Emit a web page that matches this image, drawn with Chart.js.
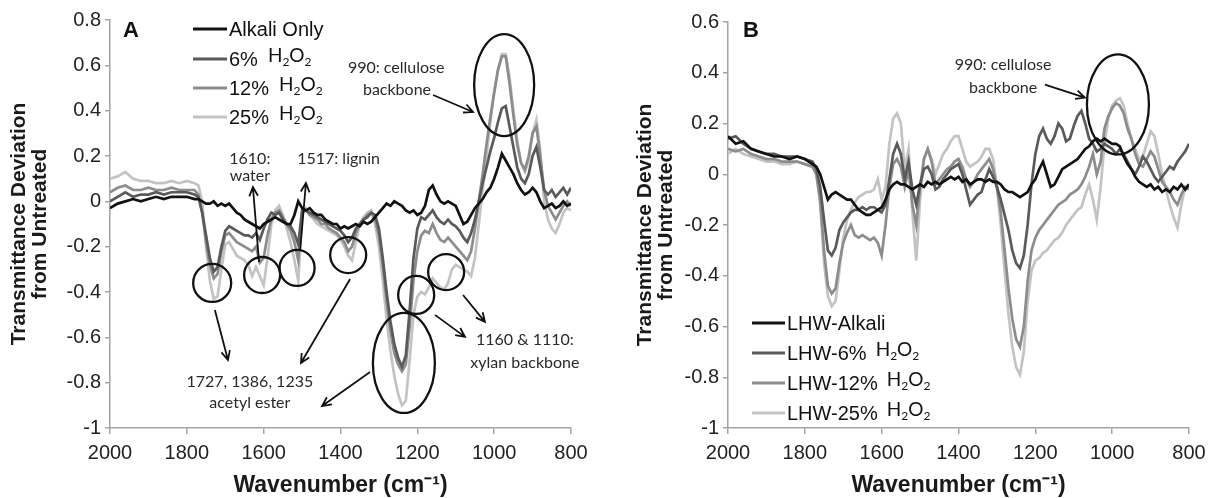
<!DOCTYPE html>
<html><head><meta charset="utf-8">
<script src="https://cdn.jsdelivr.net/npm/chart.js@4.4.1/dist/chart.umd.min.js"></script>
<style>
html,body{margin:0;padding:0;background:#fff;}
#wrap{position:relative;width:1217px;height:498px;overflow:hidden;background:#fff;}
#ca{position:absolute;left:0;top:0;}
#cb{position:absolute;left:600px;top:0;}
</style></head><body>
<div id="wrap"><canvas id="ca" width="600" height="498"></canvas><canvas id="cb" width="617" height="498"></canvas></div>
<script>
// ---------- DATA ----------
const wavenumbers = [
 2000,1980,1960,1940,1920,1900,1880,1860,1840,1820,
 1800,1780,1770,1760,1750,1740,1730,1720,1710,1700,
 1690,1680,1670,1660,1650,1640,1630,1620,1610,1600,
 1590,1580,1570,1560,1550,1540,1530,1520,1510,1500,
 1490,1480,1470,1460,1450,1440,1430,1420,1410,1400,
 1390,1380,1370,1360,1350,1340,1330,1320,1310,1300,
 1290,1280,1270,1260,1250,1240,1230,1220,1210,1200,
 1190,1180,1170,1160,1150,1140,1130,1120,1110,1100,
 1090,1080,1070,1060,1050,1040,1030,1020,1010,1000,
 990,980,970,960,950,940,930,920,910,900,
 890,880,870,860,850,840,830,820,810,800];

const xTicks = [2000,1800,1600,1400,1200,1000,800];
const yTicksA = [-1,-0.8,-0.6,-0.4,-0.2,0,0.2,0.4,0.6,0.8];
const yTicksB = [-1,-0.8,-0.6,-0.4,-0.2,0,0.2,0.4,0.6];

// Panel A
const seriesNamesA = ['Alkali Only','6% H\u2082O\u2082','12% H\u2082O\u2082','25% H\u2082O\u2082'];
const alkaliOnlyA = [
 -0.03,-0.01,0.00,0.01,0.00,0.01,0.02,0.01,0.02,0.02,
 0.02,0.01,0.01,0.00,-0.01,-0.01,0.00,-0.02,-0.01,-0.02,
 -0.01,-0.03,-0.05,-0.06,-0.08,-0.09,-0.10,-0.11,-0.12,-0.10,
 -0.09,-0.08,-0.07,-0.08,-0.09,-0.10,-0.10,-0.06,0.00,-0.03,
 -0.04,-0.03,-0.05,-0.06,-0.06,-0.08,-0.09,-0.10,-0.10,-0.12,
 -0.11,-0.12,-0.11,-0.10,-0.11,-0.09,-0.10,-0.09,-0.07,-0.05,
 -0.03,-0.01,-0.02,0.00,-0.01,-0.02,-0.04,-0.05,-0.04,-0.06,
 -0.05,-0.02,0.05,0.07,0.03,0.00,-0.01,0.00,-0.01,-0.02,
 -0.06,-0.10,-0.09,-0.06,-0.03,-0.01,0.01,0.04,0.06,0.10,
 0.15,0.21,0.18,0.15,0.12,0.08,0.05,0.03,0.04,0.06,
 0.04,0.00,-0.03,-0.02,-0.01,-0.03,-0.02,0.00,-0.02,-0.01];
const h2o2_6A = [
 0.00,0.02,0.04,0.02,0.03,0.03,0.04,0.03,0.04,0.04,
 0.04,0.03,0.02,-0.05,-0.15,-0.25,-0.31,-0.29,-0.20,-0.13,
 -0.11,-0.12,-0.13,-0.14,-0.15,-0.15,-0.16,-0.14,-0.17,-0.12,
 -0.08,-0.05,-0.06,-0.05,-0.08,-0.10,-0.11,-0.14,-0.19,-0.04,
 -0.04,-0.05,-0.06,-0.07,-0.08,-0.09,-0.10,-0.11,-0.12,-0.13,
 -0.15,-0.18,-0.16,-0.12,-0.10,-0.08,-0.07,-0.05,-0.06,-0.12,
 -0.25,-0.40,-0.53,-0.63,-0.69,-0.73,-0.68,-0.48,-0.25,-0.12,
 -0.07,-0.08,-0.06,-0.04,-0.07,-0.09,-0.10,-0.08,-0.10,-0.11,
 -0.13,-0.16,-0.18,-0.14,-0.08,0.00,0.08,0.15,0.22,0.28,
 0.35,0.41,0.42,0.33,0.24,0.15,0.10,0.08,0.12,0.20,
 0.24,0.15,0.05,0.03,0.05,0.02,0.04,0.06,0.03,0.06];
const h2o2_12A = [
 0.04,0.06,0.07,0.05,0.05,0.06,0.05,0.05,0.06,0.05,
 0.05,0.05,0.03,-0.05,-0.18,-0.28,-0.34,-0.32,-0.22,-0.15,
 -0.14,-0.16,-0.18,-0.19,-0.20,-0.21,-0.22,-0.20,-0.27,-0.25,
 -0.15,-0.08,-0.05,-0.04,-0.07,-0.10,-0.13,-0.18,-0.26,-0.05,
 -0.04,-0.06,-0.07,-0.08,-0.10,-0.10,-0.12,-0.13,-0.14,-0.16,
 -0.18,-0.22,-0.20,-0.14,-0.10,-0.08,-0.06,-0.05,-0.08,-0.15,
 -0.28,-0.44,-0.57,-0.67,-0.72,-0.75,-0.72,-0.55,-0.35,-0.22,
 -0.15,-0.13,-0.14,-0.10,-0.14,-0.17,-0.18,-0.16,-0.18,-0.20,
 -0.22,-0.24,-0.26,-0.22,-0.12,0.00,0.12,0.25,0.37,0.48,
 0.58,0.64,0.64,0.52,0.38,0.25,0.17,0.14,0.20,0.30,
 0.33,0.20,0.05,-0.02,-0.05,-0.08,-0.05,-0.02,0.00,-0.02];
const h2o2_25A = [
 0.10,0.11,0.13,0.10,0.09,0.09,0.08,0.08,0.09,0.08,
 0.09,0.08,0.07,0.00,-0.20,-0.35,-0.43,-0.42,-0.30,-0.19,
 -0.18,-0.21,-0.24,-0.25,-0.26,-0.28,-0.33,-0.29,-0.33,-0.37,
 -0.25,-0.10,-0.04,-0.02,-0.06,-0.12,-0.18,-0.26,-0.35,-0.06,
 -0.03,-0.06,-0.08,-0.10,-0.11,-0.12,-0.13,-0.14,-0.15,-0.17,
 -0.20,-0.24,-0.26,-0.18,-0.10,-0.07,-0.05,-0.04,-0.10,-0.20,
 -0.35,-0.52,-0.66,-0.77,-0.85,-0.90,-0.88,-0.70,-0.50,-0.42,
 -0.40,-0.41,-0.38,-0.34,-0.36,-0.38,-0.39,-0.36,-0.30,-0.28,
 -0.29,-0.30,-0.31,-0.33,-0.25,-0.10,0.05,0.20,0.35,0.48,
 0.58,0.65,0.65,0.55,0.40,0.27,0.17,0.13,0.18,0.30,
 0.36,0.22,0.00,-0.08,-0.12,-0.14,-0.10,-0.05,-0.03,-0.04];

// Panel B
const seriesNamesB = ['LHW-Alkali','LHW-6% H\u2082O\u2082','LHW-12% H\u2082O\u2082','LHW-25% H\u2082O\u2082'];
const lhwAlkaliB = [
 0.15,0.12,0.13,0.10,0.09,0.08,0.07,0.07,0.06,0.07,
 0.06,0.04,0.03,0.00,-0.05,-0.10,-0.08,-0.07,-0.08,-0.09,
 -0.10,-0.10,-0.12,-0.14,-0.15,-0.16,-0.16,-0.15,-0.14,-0.13,
 -0.10,-0.06,-0.04,-0.03,-0.04,-0.04,-0.05,-0.06,-0.05,-0.04,
 -0.05,-0.03,-0.04,-0.03,-0.04,-0.03,-0.02,-0.01,-0.02,-0.01,
 -0.03,-0.02,-0.04,-0.03,-0.02,-0.02,-0.03,-0.02,-0.03,-0.03,
 -0.04,-0.06,-0.07,-0.07,-0.08,-0.09,-0.08,-0.07,-0.04,-0.02,
 0.02,0.05,0.00,-0.05,-0.04,-0.01,0.02,0.03,0.04,0.05,
 0.06,0.08,0.10,0.11,0.13,0.14,0.13,0.14,0.13,0.12,
 0.12,0.11,0.07,0.04,0.02,-0.01,-0.03,-0.04,-0.05,-0.04,
 -0.06,-0.05,-0.07,-0.06,-0.07,-0.05,-0.06,-0.04,-0.06,-0.04];
const lhw6B = [
 0.14,0.15,0.12,0.10,0.09,0.08,0.08,0.07,0.07,0.07,
 0.06,0.05,0.02,-0.05,-0.18,-0.30,-0.32,-0.29,-0.22,-0.19,
 -0.17,-0.15,-0.14,-0.14,-0.13,-0.14,-0.13,-0.13,-0.14,-0.15,
 -0.12,-0.02,0.08,0.12,0.08,-0.02,0.05,-0.06,-0.12,-0.04,
 0.02,0.03,0.00,-0.06,-0.05,-0.02,0.00,0.02,0.03,0.04,
 0.00,-0.06,-0.12,-0.10,-0.08,-0.07,-0.02,0.02,-0.01,-0.05,
 -0.10,-0.16,-0.22,-0.30,-0.35,-0.37,-0.32,-0.20,-0.04,0.08,
 0.15,0.18,0.14,0.12,0.15,0.20,0.18,0.13,0.14,0.19,
 0.23,0.25,0.20,0.14,0.12,0.09,0.10,0.12,0.11,0.10,
 0.08,0.10,0.08,0.05,0.02,0.00,0.03,0.07,0.05,0.02,
 -0.01,-0.03,-0.01,0.01,0.03,0.02,0.05,0.07,0.09,0.12];
const lhw12B = [
 0.10,0.09,0.10,0.08,0.07,0.06,0.06,0.05,0.05,0.05,
 0.04,0.03,0.00,-0.10,-0.30,-0.44,-0.47,-0.45,-0.35,-0.27,
 -0.23,-0.20,-0.24,-0.25,-0.24,-0.25,-0.26,-0.25,-0.27,-0.32,
 -0.20,-0.05,0.04,0.06,0.03,-0.05,0.02,-0.12,-0.20,-0.05,
 0.06,0.10,0.05,-0.04,-0.02,0.00,0.02,0.03,0.05,0.06,
 0.03,-0.02,-0.05,-0.03,0.00,0.02,0.04,0.06,0.02,-0.05,
 -0.15,-0.30,-0.45,-0.57,-0.65,-0.68,-0.60,-0.42,-0.30,-0.25,
 -0.22,-0.20,-0.18,-0.16,-0.14,-0.12,-0.11,-0.10,-0.08,-0.07,
 -0.06,-0.04,-0.01,0.03,0.08,0.00,0.05,0.18,0.23,0.26,
 0.28,0.27,0.24,0.18,0.14,0.08,0.04,0.03,0.06,0.09,
 0.07,0.02,-0.03,-0.05,-0.07,-0.10,-0.12,-0.08,-0.05,-0.06];
const lhw25B = [
 0.08,0.10,0.08,0.07,0.06,0.05,0.05,0.04,0.04,0.05,
 0.04,0.03,0.00,-0.12,-0.35,-0.48,-0.52,-0.50,-0.38,-0.25,
 -0.18,-0.14,-0.11,-0.09,-0.08,-0.07,-0.07,-0.06,-0.02,-0.10,
 -0.05,0.12,0.22,0.24,0.20,0.02,0.10,-0.15,-0.34,-0.10,
 0.06,0.10,0.06,0.00,0.04,0.08,0.10,0.13,0.15,0.15,
 0.10,0.05,0.03,0.04,0.05,0.07,0.10,0.10,0.06,-0.05,
 -0.20,-0.38,-0.55,-0.68,-0.76,-0.79,-0.70,-0.50,-0.38,-0.34,
 -0.33,-0.31,-0.30,-0.28,-0.26,-0.25,-0.23,-0.20,-0.18,-0.16,
 -0.14,-0.13,-0.08,-0.04,-0.10,-0.18,-0.05,0.12,0.22,0.27,
 0.29,0.30,0.27,0.20,0.14,0.10,0.06,0.07,0.12,0.17,
 0.15,0.08,0.00,-0.06,-0.12,-0.17,-0.21,-0.12,-0.05,-0.04];

// ---------- STYLE ----------
const COLORS = ['#111111','#5a5a5a','#8c8c8c','#c3c3c3'];
const AXIS = '#a4a4a4';
const FONT = '"Liberation Sans", Arial, Helvetica, sans-serif';
const NOTE_FONT = 'Lato, Carlito, "Open Sans", sans-serif';

function pts(vals){ return wavenumbers.map((w,i)=>({x:w, y:vals[i]})); }

function drawArrow(ctx,x1,y1,x2,y2){
  const a=Math.atan2(y2-y1,x2-x1), L=10, s=0.45;
  ctx.beginPath(); ctx.moveTo(x1,y1); ctx.lineTo(x2,y2);
  ctx.moveTo(x2-L*Math.cos(a-s), y2-L*Math.sin(a-s)); ctx.lineTo(x2,y2);
  ctx.lineTo(x2-L*Math.cos(a+s), y2-L*Math.sin(a+s));
  ctx.stroke();
}
function drawChem(ctx,x,yb,size){
  [['H',0],['2',1],['O',0],['2',1]].forEach(([t,sub])=>{
    ctx.font=(sub?Math.round(size*0.62):size)+'px '+NOTE_FONT;
    ctx.fillText(t,x,yb+(sub?4:0));
    x+=ctx.measureText(t).width;
  });
}

function makeAnnot(cfg){
  return {
    id:'annot'+cfg.letter,
    afterDatasetsDraw(chart){
      const ctx=chart.ctx, ca=chart.chartArea, xs=chart.scales.x, ys=chart.scales.y;
      const X=w=>xs.getPixelForValue(w), Y=v=>ys.getPixelForValue(v);
      ctx.save();
      ctx.fillStyle='#111'; ctx.textAlign='left'; ctx.textBaseline='middle';
      ctx.font='bold 22px '+FONT;
      ctx.fillText(cfg.letter, ca.left+cfg.letterDx, ca.top+cfg.letterDy);
      const lg=cfg.legend;
      lg.rows.forEach((r,i)=>{
        const y=ca.top+lg.dy[i];
        ctx.strokeStyle=COLORS[i]; ctx.lineWidth=3;
        ctx.beginPath(); ctx.moveTo(ca.left+lg.x0,y); ctx.lineTo(ca.left+lg.x1,y); ctx.stroke();
        ctx.fillStyle='#111'; ctx.textBaseline='alphabetic';
        ctx.font='20px '+FONT;
        const tx=ca.left+lg.tx;
        ctx.fillText(r.text,tx,y+7);
        if(r.chem){ const w=ctx.measureText(r.text).width; drawChem(ctx,tx+w+lg.gap,y+3,19); }
      });
      ctx.strokeStyle='#111'; ctx.lineWidth=2.3;
      cfg.ellipses.forEach(e=>{ ctx.beginPath(); ctx.ellipse(X(e.w),Y(e.v),e.rx,e.ry,0,0,Math.PI*2); ctx.stroke(); });
      ctx.lineWidth=1.8;
      cfg.arrows.forEach(a=>drawArrow(ctx,X(a.w1),Y(a.v1),X(a.w2),Y(a.v2)));
      ctx.fillStyle='#2a2a2a'; ctx.textAlign='center'; ctx.textBaseline='middle';
      ctx.font='16px '+NOTE_FONT;
      cfg.notes.forEach(n=>ctx.fillText(n.text,X(n.w),Y(n.v)));
      ctx.restore();
    }
  };
}

function makeChart(id, names, series, yMin, yMax, yTicks, yW, padTop, padRight, yTitlePad, annot){
  const datasets = series.map((s,i)=>({
    label:names[i], data:pts(s), borderColor:COLORS[i], backgroundColor:COLORS[i],
    borderWidth:2.7, pointRadius:0, tension:0, fill:false
  }));
  return new Chart(document.getElementById(id), {
    type:'line',
    data:{datasets},
    options:{
      responsive:false, animation:false, devicePixelRatio:1,
      layout:{padding:{left:0,right:padRight,top:padTop,bottom:0}},
      plugins:{legend:{display:false}, tooltip:{enabled:false}},
      scales:{
        x:{type:'linear', reverse:true, min:800, max:2000,
          afterBuildTicks(s){ s.ticks = xTicks.map(v=>({value:v})); },
          ticks:{font:{family:FONT,size:20}, color:'#222', padding:7, maxRotation:0, autoSkip:false,
                 callback:v=>String(v)},
          grid:{drawOnChartArea:false, drawTicks:true, tickLength:6, color:AXIS, lineWidth:1.5},
          border:{color:AXIS, width:1.5},
          title:{display:true, text:'Wavenumber (cm\u207B\u00B9)', color:'#1a1a1a',
                 font:{family:FONT,size:23,weight:'bold',lineHeight:1.1}, padding:{top:0,bottom:0}},
          afterFit(s){ s.height=70; }
        },
        y:{min:yMin, max:yMax,
          afterBuildTicks(s){ s.ticks = yTicks.map(v=>({value:v})); },
          ticks:{font:{family:FONT,size:20}, color:'#222', padding:4,
                 callback:v=>String(Math.round(v*10)/10)},
          grid:{drawOnChartArea:false, drawTicks:true, tickLength:5, color:AXIS, lineWidth:1.5},
          border:{color:AXIS, width:1.5},
          title:{display:true, text:['Transmittance Deviation','from Untreated'], color:'#1a1a1a',
                 font:{family:FONT,size:21,weight:'bold',lineHeight:1.0}, padding:{top:yTitlePad,bottom:0}},
          afterFit(s){ s.width=yW; }
        }
      }
    },
    plugins:[makeAnnot(annot)]
  });
}

const annotA = {
  letter:'A', letterDx:13, letterDy:11,
  legend:{x0:83,x1:117,tx:119,gap:10,dy:[9,39,68,97],
    rows:[{text:'Alkali Only'},{text:'6%',chem:true},{text:'12%',chem:true},{text:'25%',chem:true}]},
  ellipses:[
    {w:1734,v:-0.36,rx:19,ry:19},{w:1604,v:-0.325,rx:18,ry:18},{w:1513,v:-0.294,rx:17.5,ry:18},
    {w:1380,v:-0.237,rx:18,ry:18},{w:1203,v:-0.413,rx:18,ry:19},{w:1125,v:-0.312,rx:18,ry:18},
    {w:1235,v:-0.713,rx:31,ry:50},{w:974,v:0.513,rx:30,ry:51}],
  arrows:[
    {w1:1159,v1:0.469,w2:1055,v2:0.394},
    {w1:1612,v1:-0.268,w2:1628,v2:0.063},
    {w1:1505,v1:-0.215,w2:1490,v2:0.081},
    {w1:1727,v1:-0.479,w2:1693,v2:-0.70},
    {w1:1375,v1:-0.343,w2:1503,v2:-0.713},
    {w1:1323,v1:-0.753,w2:1448,v2:-0.903},
    {w1:1154,v1:-0.501,w2:1076,v2:-0.598},
    {w1:1081,v1:-0.413,w2:1024,v2:-0.532}],
  notes:[
    {text:'990: cellulose',w:1255,v:0.588},{text:'backbone',w:1253,v:0.491},
    {text:'1610:',w:1636,v:0.187},{text:'water',w:1636,v:0.112},
    {text:'1517: lignin',w:1405,v:0.187},
    {text:'1727, 1386, 1235',w:1636,v:-0.797},{text:'acetyl ester',w:1636,v:-0.89},
    {text:'1160 & 1110:',w:920,v:-0.612},{text:'xylan backbone',w:920,v:-0.713}]
};
const annotB = {
  letter:'B', letterDx:15, letterDy:9,
  legend:{x0:24,x1:57,tx:59,gap:9,dy:[301,331,361,391],
    rows:[{text:'LHW-Alkali'},{text:'LHW-6%',chem:true},{text:'LHW-12%',chem:true},{text:'LHW-25%',chem:true}]},
  ellipses:[{w:985,v:0.275,rx:31,ry:50}],
  arrows:[{w1:1175,v1:0.353,w2:1071,v2:0.302}],
  notes:[{text:'990: cellulose',w:1284,v:0.431},{text:'backbone',w:1284,v:0.341}]
};

makeChart('ca', seriesNamesA, [alkaliOnlyA,h2o2_6A,h2o2_12A,h2o2_25A], -1, 0.8, yTicksA, 110, 20, 29, 8.5, annotA);
makeChart('cb', seriesNamesB, [lhwAlkaliB,lhw6B,lhw12B,lhw25B], -1, 0.6, yTicksB, 128, 22, 28, 34.5, annotB);
</script></body></html>
